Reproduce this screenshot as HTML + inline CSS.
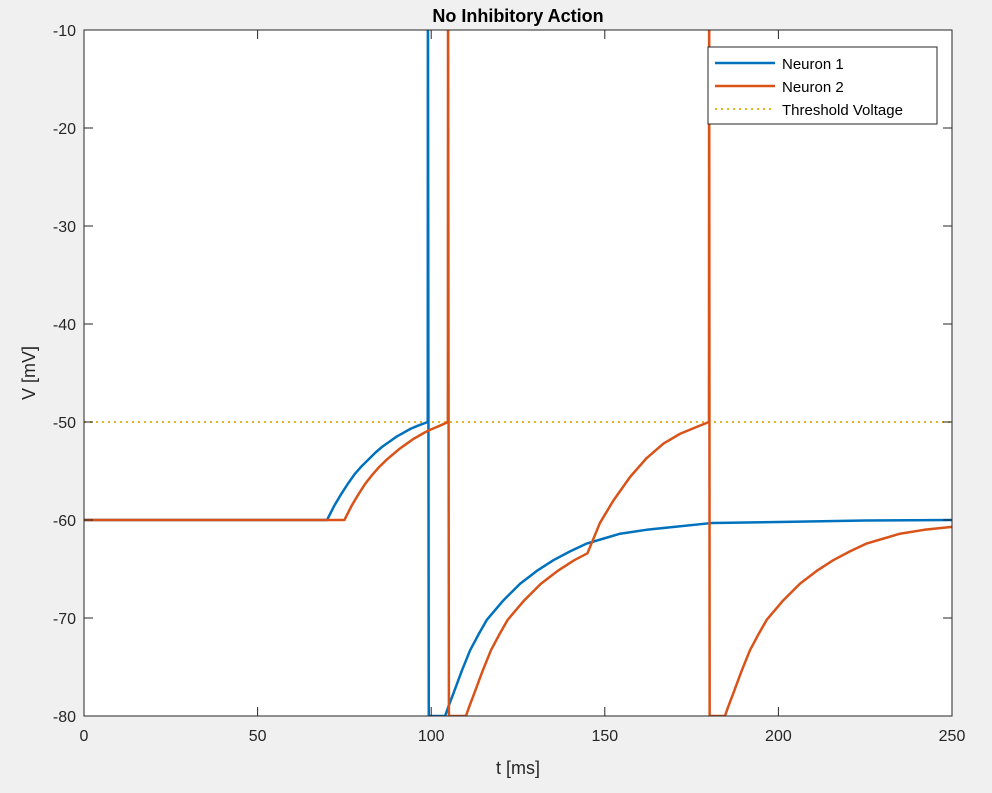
<!DOCTYPE html>
<html><head><meta charset="utf-8"><style>
body{margin:0;background:#f0f0f0;font-family:"Liberation Sans",Arial,sans-serif}
svg text{font-family:"Liberation Sans",Arial,sans-serif}
</style></head><body>
<svg width="992" height="788" xmlns="http://www.w3.org/2000/svg">
<rect x="0" y="0" width="992" height="788" fill="#f0f0f0"/>
<rect x="84" y="30" width="868" height="686" fill="#fff"/>
<defs><clipPath id="cp"><rect x="84" y="30" width="868" height="686"/></clipPath></defs>
<g id="series" clip-path="url(#cp)"></g>
<rect x="84" y="30" width="868" height="686" fill="none" stroke="#262626" stroke-width="1"/>
<g id="ticks"></g>
<text x="518" y="22" text-anchor="middle" font-size="18" font-weight="bold" fill="#000">No Inhibitory Action</text>
<text x="518" y="774" text-anchor="middle" font-size="18" fill="#262626">t [ms]</text>
<text transform="translate(35,373) rotate(-90)" text-anchor="middle" font-size="18" fill="#262626">V [mV]</text>
<g>
<rect x="708" y="47" width="229" height="77" fill="#fff" stroke="#262626" stroke-width="1"/>
<line x1="715" y1="63" x2="775" y2="63" stroke="#0072BD" stroke-width="2.5"/>
<text x="782" y="69" font-size="15" fill="#000">Neuron 1</text>
<line x1="715" y1="86" x2="775" y2="86" stroke="#D95319" stroke-width="2.5"/>
<text x="782" y="92" font-size="15" fill="#000">Neuron 2</text>
<line x1="715" y1="109" x2="775" y2="109" stroke="#EDB120" stroke-width="2" stroke-dasharray="2,4"/>
<text x="782" y="115" font-size="15" fill="#000">Threshold Voltage</text>
</g>
</svg>
<script>
const xTicks=[0,50,100,150,200,250];
const yTicks=[-10,-20,-30,-40,-50,-60,-70,-80];
const threshold=-50;
const n1T=[0,70,72,74,76,78,80,82,84,86,88,90,92,94,96,99,99.05,99.3,104,105,106.4,108.8,111.2,113.6,116,120.8,125.6,130.4,135.2,140,144.8,149.6,154.4,162,170,181,200,225,250];
const n1V=[-60,-60,-58.6,-57.4,-56.3,-55.3,-54.5,-53.8,-53.1,-52.5,-52.0,-51.5,-51.1,-50.7,-50.4,-50,0,-80,-80,-79,-77.7,-75.4,-73.3,-71.7,-70.2,-68.2,-66.5,-65.2,-64.1,-63.2,-62.4,-61.9,-61.4,-61.0,-60.7,-60.3,-60.2,-60.05,-60];
const n2T=[0,75,77,79,81,83,85,87,89,91,93,95,97,99,101,103,104.8,104.85,105.1,110,111,112.4,114.8,117.2,119.6,122,126.8,131.6,136.4,141.2,145,148.6,152.5,157.3,162,166.9,171.7,176.5,180,180.05,180.2,184.6,185.6,187,189.4,191.8,194.2,196.6,201.4,206.2,211,215.8,220.6,225.4,230.2,235,242,250];
const n2V=[-60,-60,-58.6,-57.4,-56.3,-55.4,-54.6,-53.9,-53.3,-52.7,-52.2,-51.7,-51.3,-50.9,-50.6,-50.3,-50,0,-80,-80,-79,-77.7,-75.4,-73.3,-71.7,-70.2,-68.2,-66.5,-65.2,-64.1,-63.4,-60.3,-58.0,-55.6,-53.7,-52.2,-51.2,-50.5,-50,0,-80,-80,-79,-77.7,-75.4,-73.3,-71.7,-70.2,-68.2,-66.5,-65.2,-64.1,-63.2,-62.4,-61.9,-61.4,-61.0,-60.7];
const X=t=>84+t/250*868, Y=v=>30+(-10-v)/70*686;
const NS="http://www.w3.org/2000/svg";
function mk(tag,attrs,parent){const e=document.createElementNS(NS,tag);for(const k in attrs)e.setAttribute(k,attrs[k]);parent.appendChild(e);return e;}
const tk=document.getElementById('ticks'),sr=document.getElementById('series');
xTicks.forEach(t=>{
 const l=mk('line',{x1:X(t),x2:X(t),y1:716,y2:707,stroke:'#262626'},tk);
 
 
 mk('line',{x1:X(t),x2:X(t),y1:30,y2:39,stroke:'#262626'},tk);
 const tx=mk('text',{x:X(t),y:741,'text-anchor':'middle','font-size':16,fill:'#262626'},tk);
 tx.textContent=t;
 
 
});
yTicks.forEach(v=>{
 const l=mk('line',{x1:84,x2:93,y1:Y(v),y2:Y(v),stroke:'#262626'},tk);
 
 
 mk('line',{x1:952,x2:943,y1:Y(v),y2:Y(v),stroke:'#262626'},tk);
 const tx=mk('text',{x:76,y:Y(v)+6,'text-anchor':'end','font-size':16,fill:'#262626'},tk);
 tx.textContent=v;
 
 
});
function line(T,V,color,name){
 const p=T.map((t,i)=>X(t).toFixed(2)+','+Y(V[i]).toFixed(2)).join(' ');
 const e=mk('polyline',{points:p,fill:'none',stroke:color,'stroke-width':2.5,'stroke-linejoin':'round'},sr);
 
 
}
const th=mk('line',{x1:X(0),x2:X(250),y1:Y(threshold),y2:Y(threshold),stroke:'#EDB120','stroke-width':2,'stroke-dasharray':'2,4'},sr);


line(n1T,n1V,'#0072BD','neuron1-line');
line(n2T,n2V,'#D95319','neuron2-line');
</script>
</body></html>
